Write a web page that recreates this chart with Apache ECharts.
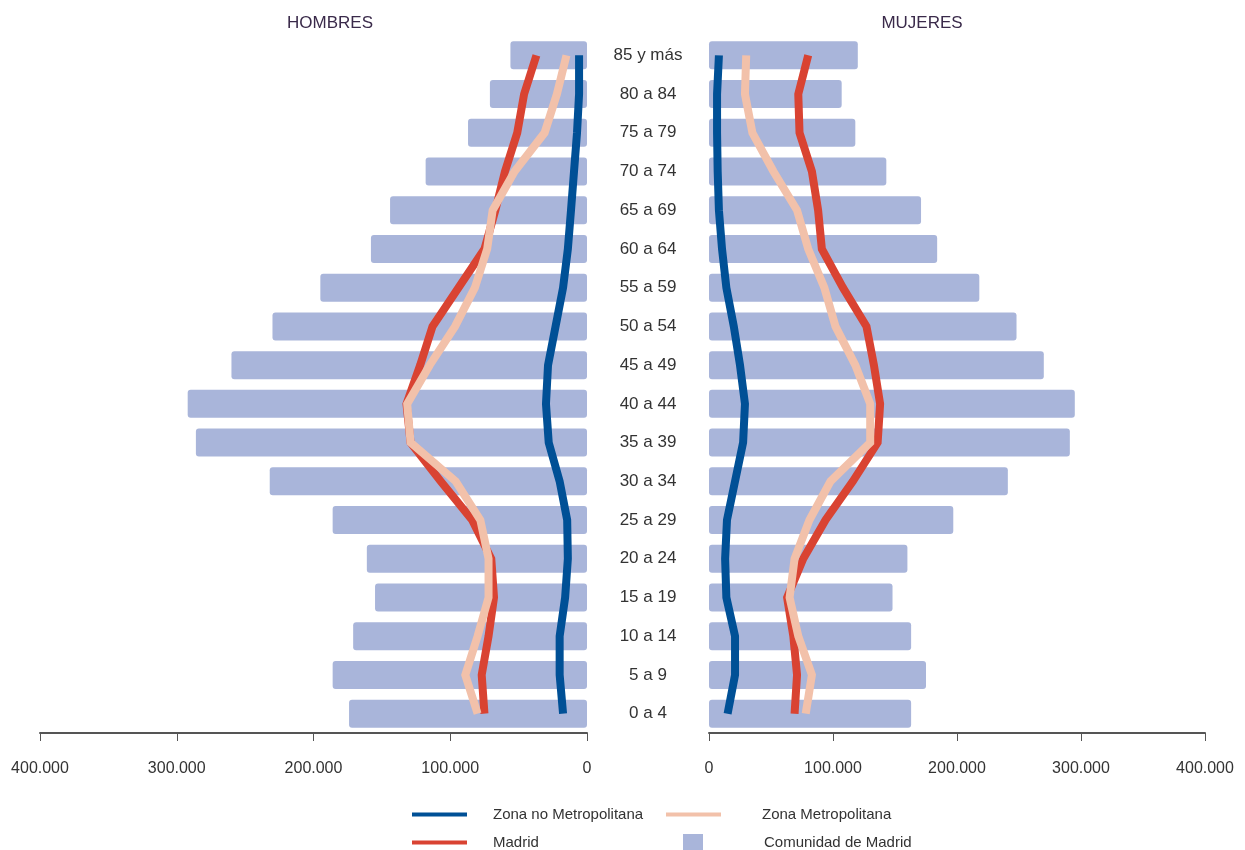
<!DOCTYPE html>
<html>
<head>
<meta charset="utf-8">
<script src="https://cdn.jsdelivr.net/npm/echarts@6/dist/echarts.min.js"></script>
<style>
  html, body { margin: 0; padding: 0; background: #fff; }
  #pyramid_chart { width: 1245px; height: 850px; }
</style>
</head>
<body>
<div id="pyramid_chart"></div>
<script>
// age groups, bottom to top
var age_groups = ["0 a 4", "5 a 9", "10 a 14", "15 a 19", "20 a 24", "25 a 29", "30 a 34", "35 a 39",
    "40 a 44", "45 a 49", "50 a 54", "55 a 59", "60 a 64", "65 a 69", "70 a 74", "75 a 79", "80 a 84", "85 y más"];

// HOMBRES
var men_comunidad = [174000, 186000, 171000, 155000, 161000, 186000, 232000, 286000, 292000, 260000, 230000, 195000, 158000, 144000, 118000, 87000, 71000, 56000];
var men_no_metro = [17500, 20000, 20000, 16000, 14000, 14500, 20000, 28000, 30000, 28500, 23000, 17500, 14000, 11700, 9500, 7300, 5800, 5800];
var men_madrid = [75000, 77000, 72000, 68000, 70000, 84000, 107000, 129000, 132000, 122000, 113000, 94000, 75000, 67000, 60000, 51000, 46000, 37000];
var men_metro = [80000, 89000, 80000, 72000, 72000, 78000, 96000, 129000, 131500, 115000, 96500, 82000, 73000, 69000, 53000, 31000, 22000, 15000];

// MUJERES
var women_comunidad = [163000, 175000, 163000, 148000, 160000, 197000, 241000, 291000, 295000, 270000, 248000, 218000, 184000, 171000, 143000, 118000, 107000, 120000];
var women_no_metro = [15000, 21000, 21000, 14000, 13000, 14500, 21000, 27500, 29000, 25000, 20000, 14000, 10500, 8000, 7000, 6500, 6500, 8000];
var women_madrid = [69000, 71000, 68000, 63000, 76000, 94000, 116000, 136000, 138000, 133000, 127000, 108000, 91000, 88000, 83000, 73000, 72000, 80000];
var women_metro = [78000, 83000, 72000, 65000, 69000, 81000, 98000, 130000, 130000, 118000, 102000, 93000, 80000, 71000, 52000, 35000, 29000, 30000];

var x_ticks = [0, 100000, 200000, 300000, 400000];

var font = "'Liberation Sans', Arial, sans-serif";
var c_bar = "#a9b5da", c_no_metro = "#005096", c_madrid = "#d94332", c_metro = "#f2c1aa";

function fmt_thousands(v) {
    return String(v).replace(/\B(?=(\d{3})+(?!\d))/g, ".");
}

function x_axis(grid, inverse) {
    return {
        type: "value",
        gridIndex: grid,
        inverse: inverse,
        min: x_ticks[0],
        max: x_ticks[x_ticks.length - 1],
        interval: 100000,
        axisLine: {show: true, lineStyle: {color: "#555", width: 2}},
        axisTick: {show: true, length: 8, lineStyle: {color: "#555"}},
        splitLine: {show: false},
        axisLabel: {
            margin: 28, color: "#333", fontFamily: font, fontSize: 16,
            formatter: function (v) { return fmt_thousands(v); }
        }
    };
}

function line_series(name, grid, data, color) {
    return {
        name: name, type: "line", xAxisIndex: grid, yAxisIndex: grid, data: data,
        symbol: "none", z: 5,
        lineStyle: {color: color, width: 8, cap: "butt", join: "miter"},
        itemStyle: {color: color}
    };
}

function bar_series(grid, data) {
    return {
        name: "Comunidad de Madrid", type: "bar", xAxisIndex: grid, yAxisIndex: grid, data: data,
        barWidth: 28, itemStyle: {color: c_bar, borderRadius: 3}, z: 2
    };
}

function legend_item(name, left, top, w, h, gap) {
    return {
        data: [name], left: left, top: top, icon: "rect", itemWidth: w, itemHeight: h, itemGap: 0,
        selectedMode: false,
        textStyle: {color: "#333", fontFamily: font, fontSize: 15, padding: [0, 0, 0, gap]}
    };
}

var option = {
    animation: false,
    title: [
        {text: "HOMBRES", left: 325, top: 10, textAlign: "center",
            textStyle: {color: "#3a2a4a", fontFamily: font, fontSize: 17, fontWeight: "normal"}},
        {text: "MUJERES", left: 917, top: 10, textAlign: "center",
            textStyle: {color: "#3a2a4a", fontFamily: font, fontSize: 17, fontWeight: "normal"}}
    ],
    legend: [
        legend_item("Zona no Metropolitana", 407, 802, 55, 4, 21),
        legend_item("Zona Metropolitana", 661, 802, 55, 4, 36),
        legend_item("Madrid", 407, 830, 55, 4, 21),
        legend_item("Comunidad de Madrid", 678, 829, 20, 18, 56)
    ],
    grid: [
        {left: 40, right: 658, top: 36, bottom: 117},
        {left: 709, right: 40, top: 36, bottom: 117}
    ],
    xAxis: [x_axis(0, true), x_axis(1, false)],
    yAxis: [
        {
            type: "category", gridIndex: 0, data: age_groups, position: "right",
            axisLine: {show: false}, axisTick: {show: false},
            axisLabel: {margin: 61, align: "center", color: "#333", fontFamily: font, fontSize: 17}
        },
        {
            type: "category", gridIndex: 1, data: age_groups,
            axisLine: {show: false}, axisTick: {show: false}, axisLabel: {show: false}
        }
    ],
    series: [
        bar_series(0, men_comunidad),
        bar_series(1, women_comunidad),
        line_series("Zona no Metropolitana", 0, men_no_metro, c_no_metro),
        line_series("Zona no Metropolitana", 1, women_no_metro, c_no_metro),
        line_series("Madrid", 0, men_madrid, c_madrid),
        line_series("Madrid", 1, women_madrid, c_madrid),
        line_series("Zona Metropolitana", 0, men_metro, c_metro),
        line_series("Zona Metropolitana", 1, women_metro, c_metro)
    ]
};

var pyramid_chart = echarts.init(document.getElementById("pyramid_chart"));
pyramid_chart.setOption(option);
</script>
</body>
</html>
